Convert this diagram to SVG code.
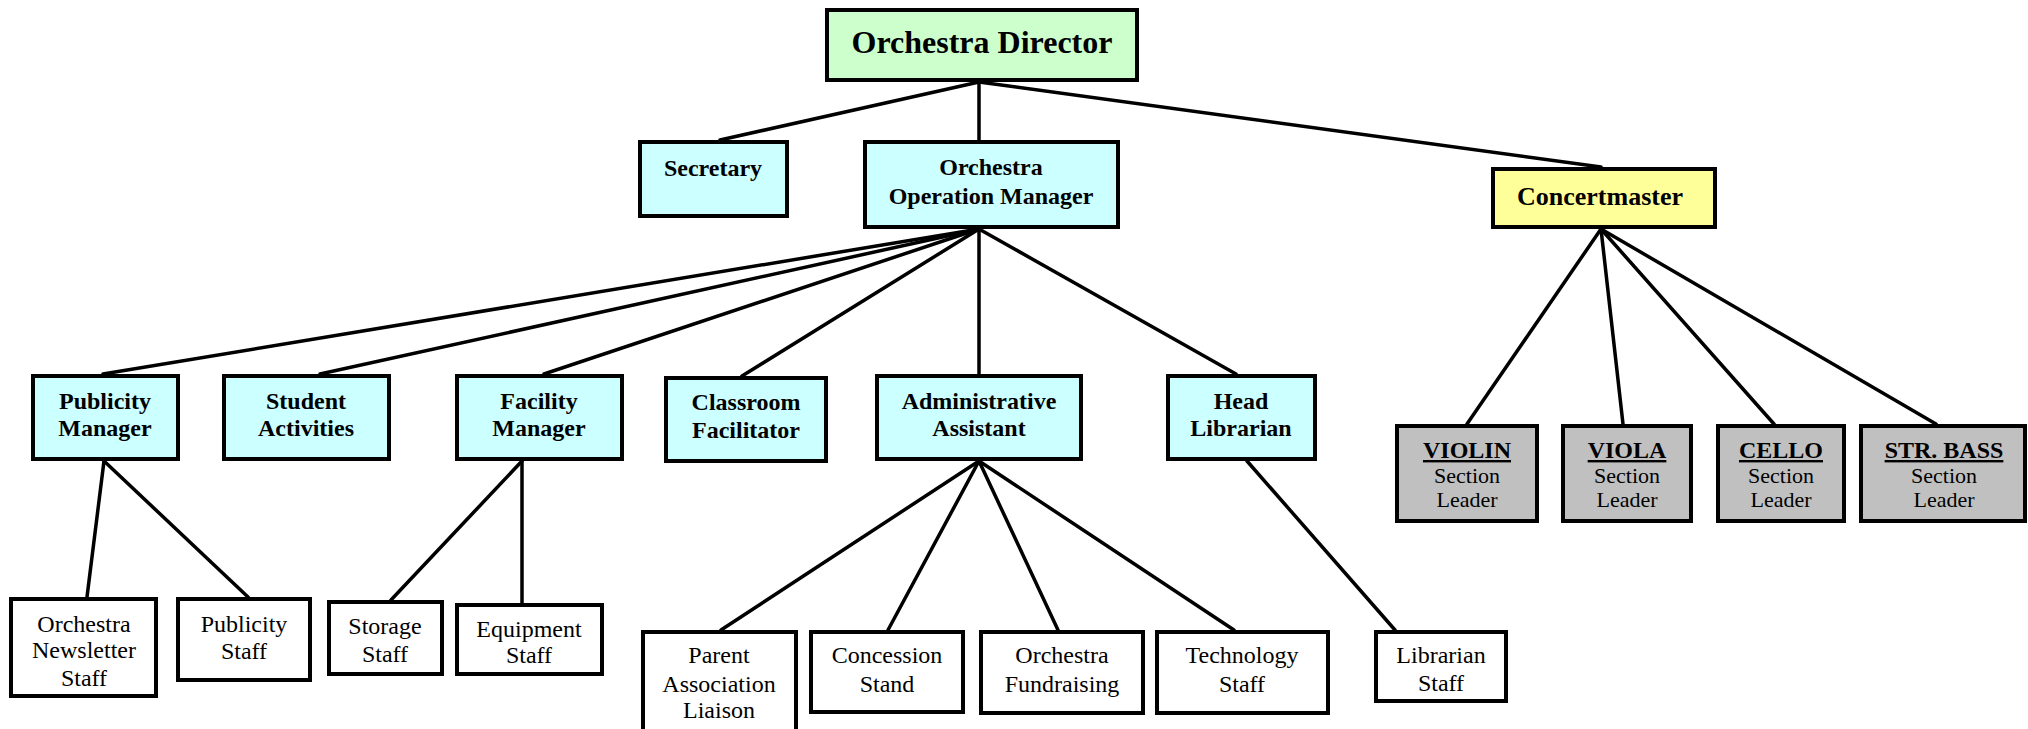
<svg xmlns="http://www.w3.org/2000/svg" width="2028" height="729" viewBox="0 0 2028 729">
<style>
.box{stroke:#000;stroke-width:4}
.dir{fill:#CCFFCC}
.blue{fill:#CCFFFF}
.yel{fill:#FFFF99}
.gray{fill:#C0C0C0}
.white{fill:#FFFFFF}
text{font-family:"Liberation Serif","Times New Roman",serif;text-anchor:middle;fill:#000}
.b{font-weight:bold;font-size:24px}
.r{font-size:24px}
.s{font-size:22px}
.conn line{stroke:#000;stroke-width:3.5;stroke-linecap:round}
</style>
<rect width="2028" height="729" fill="#fff"/>
<g class="conn" id="connectors">
<line x1="979" y1="82" x2="720" y2="140"/>
<line x1="979" y1="82" x2="979" y2="140"/>
<line x1="979" y1="82" x2="1601" y2="167"/>
<line x1="979" y1="229" x2="103" y2="374"/>
<line x1="979" y1="229" x2="320" y2="374"/>
<line x1="979" y1="229" x2="544" y2="374"/>
<line x1="979" y1="229" x2="742" y2="376"/>
<line x1="979" y1="229" x2="979" y2="374"/>
<line x1="979" y1="229" x2="1236" y2="374"/>
<line x1="104" y1="461" x2="87" y2="597"/>
<line x1="104" y1="461" x2="248" y2="597"/>
<line x1="522" y1="461" x2="391" y2="600"/>
<line x1="522" y1="461" x2="522" y2="603"/>
<line x1="979" y1="461" x2="721" y2="630"/>
<line x1="979" y1="461" x2="888" y2="630"/>
<line x1="979" y1="461" x2="1058" y2="630"/>
<line x1="979" y1="461" x2="1234" y2="630"/>
<line x1="1247" y1="461" x2="1395" y2="630"/>
<line x1="1601" y1="229" x2="1467" y2="424"/>
<line x1="1601" y1="229" x2="1623" y2="424"/>
<line x1="1601" y1="229" x2="1774" y2="424"/>
<line x1="1601" y1="229" x2="1936" y2="424"/>
</g>
<g id="director"><rect class="box dir" x="827" y="10" width="310" height="70"/><text x="982" y="53" font-weight="bold" font-size="32">Orchestra Director</text></g>
<g id="secretary"><rect class="box blue" x="640" y="142" width="147" height="74"/><text class="b" x="713" y="176">Secretary</text></g>
<g id="opmanager"><rect class="box blue" x="865" y="142" width="253" height="85"/><text class="b" x="991" y="175">Orchestra</text><text class="b" x="991" y="204">Operation Manager</text></g>
<g id="concertmaster"><rect class="box yel" x="1493" y="169" width="222" height="58"/><text x="1600" y="205" font-weight="bold" font-size="26">Concertmaster</text></g>
<g id="publicitymgr"><rect class="box blue" x="33" y="376" width="145" height="83"/><text class="b" x="105" y="409">Publicity</text><text class="b" x="105" y="436">Manager</text></g>
<g id="student"><rect class="box blue" x="224" y="376" width="165" height="83"/><text class="b" x="306" y="409">Student</text><text class="b" x="306" y="436">Activities</text></g>
<g id="facility"><rect class="box blue" x="457" y="376" width="165" height="83"/><text class="b" x="539" y="409">Facility</text><text class="b" x="539" y="436">Manager</text></g>
<g id="classroom"><rect class="box blue" x="666" y="378" width="160" height="83"/><text class="b" x="746" y="410">Classroom</text><text class="b" x="746" y="438">Facilitator</text></g>
<g id="admin"><rect class="box blue" x="877" y="376" width="204" height="83"/><text class="b" x="979" y="409">Administrative</text><text class="b" x="979" y="436">Assistant</text></g>
<g id="headlib"><rect class="box blue" x="1168" y="376" width="147" height="83"/><text class="b" x="1241" y="409">Head</text><text class="b" x="1241" y="436">Librarian</text></g>
<g id="violin"><rect class="box gray" x="1397" y="426" width="140" height="95"/><text class="b" x="1467" y="458" text-decoration="underline">VIOLIN</text><text class="s" x="1467" y="483">Section</text><text class="s" x="1467" y="507">Leader</text></g>
<g id="viola"><rect class="box gray" x="1563" y="426" width="128" height="95"/><text class="b" x="1627" y="458" text-decoration="underline">VIOLA</text><text class="s" x="1627" y="483">Section</text><text class="s" x="1627" y="507">Leader</text></g>
<g id="cello"><rect class="box gray" x="1718" y="426" width="126" height="95"/><text class="b" x="1781" y="458" text-decoration="underline">CELLO</text><text class="s" x="1781" y="483">Section</text><text class="s" x="1781" y="507">Leader</text></g>
<g id="strbass"><rect class="box gray" x="1861" y="426" width="164" height="95"/><text class="b" x="1944" y="458" text-decoration="underline">STR. BASS</text><text class="s" x="1944" y="483">Section</text><text class="s" x="1944" y="507">Leader</text></g>
<g id="newsletter"><rect class="box white" x="11" y="599" width="145" height="97"/><text class="r" x="84" y="632">Orchestra</text><text class="r" x="84" y="658">Newsletter</text><text class="r" x="84" y="686">Staff</text></g>
<g id="pubstaff"><rect class="box white" x="178" y="599" width="132" height="81"/><text class="r" x="244" y="632">Publicity</text><text class="r" x="244" y="659">Staff</text></g>
<g id="storage"><rect class="box white" x="329" y="602" width="113" height="72"/><text class="r" x="385" y="634">Storage</text><text class="r" x="385" y="662">Staff</text></g>
<g id="equipment"><rect class="box white" x="457" y="605" width="145" height="69"/><text class="r" x="529" y="637">Equipment</text><text class="r" x="529" y="663">Staff</text></g>
<g id="parent"><rect class="box white" x="643" y="632" width="153" height="103"/><text class="r" x="719" y="663">Parent</text><text class="r" x="719" y="692">Association</text><text class="r" x="719" y="718">Liaison</text></g>
<g id="concession"><rect class="box white" x="811" y="632" width="152" height="80"/><text class="r" x="887" y="663">Concession</text><text class="r" x="887" y="692">Stand</text></g>
<g id="fundraising"><rect class="box white" x="981" y="632" width="162" height="81"/><text class="r" x="1062" y="663">Orchestra</text><text class="r" x="1062" y="692">Fundraising</text></g>
<g id="technology"><rect class="box white" x="1157" y="632" width="171" height="81"/><text class="r" x="1242" y="663">Technology</text><text class="r" x="1242" y="692">Staff</text></g>
<g id="libstaff"><rect class="box white" x="1376" y="632" width="130" height="69"/><text class="r" x="1441" y="663">Librarian</text><text class="r" x="1441" y="691">Staff</text></g>
</svg>
